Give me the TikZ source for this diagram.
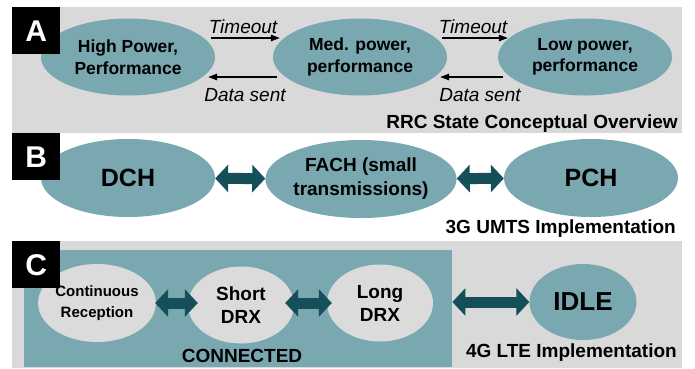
\documentclass[tikz,border=0pt]{standalone}
\usepackage{fontspec}
\setmainfont{Liberation Sans}
\usetikzlibrary{shapes.geometric,arrows.meta}
\definecolor{tealfill}{HTML}{79A8B1}
\definecolor{panelgray}{HTML}{D9D9D9}
\definecolor{lightell}{HTML}{DBDBDB}
\definecolor{darkarrow}{HTML}{144F5A}
\begin{document}
\begin{tikzpicture}[x=1pt,y=-1pt,
  stateA/.style={ellipse, fill=tealfill, minimum width=174pt, minimum height=77pt, inner sep=0pt, align=center, font=\bfseries\fontsize{17.5}{21.5}\selectfont},
  stateB/.style={ellipse, fill=tealfill, minimum width=174pt, minimum height=78pt, inner sep=0pt, align=center, font=\bfseries\fontsize{25}{28}\selectfont},
  stateC/.style={ellipse, fill=lightell, minimum width=106pt, minimum height=77pt, inner sep=0pt, align=center, font=\bfseries\fontsize{19}{23}\selectfont},
  dblarrow/.style={draw=darkarrow, line width=11pt, {Triangle[length=13pt,width=27pt]}-{Triangle[length=13pt,width=27pt]}},
  thinarrow/.style={draw=black, line width=1.2pt, -{Triangle[length=9pt,width=6.5pt]}},
  tlabel/.style={anchor=base, inner sep=0pt, font=\itshape\fontsize{19}{22}\selectfont},
  caption/.style={anchor=base east, inner sep=0pt, font=\bfseries\fontsize{19}{22}\selectfont},
  letterbox/.style={fill=black, text=white, minimum width=48pt, minimum height=47pt, inner sep=0pt, font=\bfseries\fontsize{30}{30}\selectfont}
]
\useasboundingbox (0,0) rectangle (695,368);
\fill[white] (0,0) rectangle (695,368);

% Panel A
\fill[panelgray] (12,7) rectangle (682,133);
\node[stateA] (a1) at (128,57) {High Power,\\Performance};
\node[stateA] (a2) at (360,57) {Med. power,\\performance};
\node[stateA] (a3) at (585,57) {Low power,\\performance};
\draw[thinarrow] ([shift={(-4,-19)}]a1.east) -- ([shift={(7,-19)}]a2.west);
\draw[thinarrow] ([shift={(4,20)}]a2.west) -- ([shift={(-7,20)}]a1.east);
\draw[thinarrow] ([shift={(-5,-19)}]a2.east) -- ([shift={(10,-19)}]a3.west);
\draw[thinarrow] ([shift={(5,20)}]a3.west) -- ([shift={(-7,20)}]a2.east);
\node[tlabel] (t1) at (243,33) {Timeout};
\node[tlabel] (d1) at (245,101) {Data sent};
\node[tlabel] (t2) at (473,33) {Timeout};
\node[tlabel] (d2) at (480,101) {Data sent};
\node[caption] (capA) at (678,128) {RRC State Conceptual Overview};

% Panel B
\node[stateB] (b1) at (128,178) {DCH};
\node[stateB, font=\bfseries\fontsize{19}{24}\selectfont] (b2) at (361,179) {FACH (small\\transmissions)};
\node[stateB] (b3) at (591,178) {PCH};
\draw[dblarrow] (b1) -- (b2);
\draw[dblarrow] (b2) -- (b3);
\node[caption] (capB) at (676,233) {3G UMTS Implementation};

% Panel C
\fill[panelgray] (12,241) rectangle (682,368);
\node[fill=tealfill, minimum width=428pt, minimum height=117pt, inner sep=0pt, anchor=north west] (conn) at (24,250) {};
\node[stateC, minimum width=114pt, minimum height=78pt, font=\bfseries\fontsize{15}{21}\selectfont] (c1) at (97,303) {Continuous\\Reception};
\node[stateC] (c2) at (241,305) {Short\\DRX};
\node[stateC] (c3) at (380,303) {Long\\DRX};
\node[stateB, minimum width=107pt, minimum height=76pt, font=\bfseries\fontsize{26}{28}\selectfont] (idle) at (583,302) {IDLE};
\draw[dblarrow] ([xshift=-1pt]c1.east) -- ([xshift=10pt]c2.west |- c1.east);
\draw[dblarrow] ([xshift=-9pt]c2.east |- c3.west) -- ([xshift=5pt]c3.west);
\draw[dblarrow] (conn.east |- idle.west) -- (idle);
\node[anchor=base, inner sep=0pt, font=\bfseries\fontsize{19}{22}\selectfont] (connlab) at (242,362) {CONNECTED};
\node[caption] (capC) at (677,357) {4G LTE Implementation};

% Letter boxes
\node[letterbox, anchor=north west] (boxA) at (12,7) {A};
\node[letterbox, anchor=north west] (boxB) at (12,133) {B};
\node[letterbox, anchor=north west] (boxC) at (12,241) {C};
\end{tikzpicture}
\end{document}
